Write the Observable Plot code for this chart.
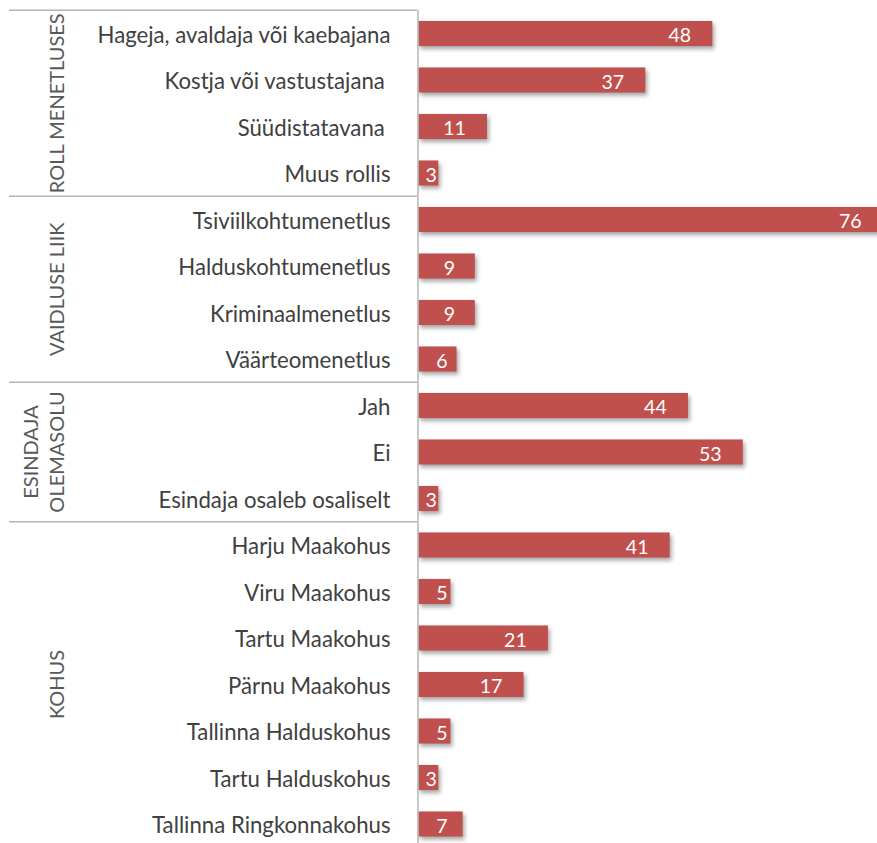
<!DOCTYPE html>
<html>
<head>
<meta charset="utf-8">
<script src="https://cdn.jsdelivr.net/npm/d3@7"></script>
<script src="https://cdn.jsdelivr.net/npm/@observablehq/plot@0.6"></script>
<style>
  html, body { margin: 0; padding: 0; background: #fff; overflow: hidden; }
  #chart svg { display: block; max-width: none !important; }
</style>
</head>
<body>
<div id="chart"></div>
<script>
// ---- data ----
const categories = [
  "Hageja, avaldaja või kaebajana", "Kostja või vastustajana ", "Süüdistatavana ", "Muus rollis",
  "Tsiviilkohtumenetlus", "Halduskohtumenetlus", "Kriminaalmenetlus", "Väärteomenetlus",
  "Jah", "Ei", "Esindaja osaleb osaliselt",
  "Harju Maakohus", "Viru Maakohus", "Tartu Maakohus", "Pärnu Maakohus",
  "Tallinna Halduskohus", "Tartu Halduskohus", "Tallinna Ringkonnakohus"
];
const values = [48, 37, 11, 3, 76, 9, 9, 6, 44, 53, 3, 41, 5, 21, 17, 5, 3, 7];
const groupNames = ["ROLL MENETLUSES", "VAIDLUSE LIIK", "ESINDAJA\nOLEMASOLU", "KOHUS"];
const groupSizes = [4, 4, 3, 7];

const data = categories.map((c, i) => ({category: c, value: values[i]}));
const groupFirst = [];
{ let k = 0; for (const s of groupSizes) { groupFirst.push(k); k += s; } }

// ---- font fitting (reference uses Calibri) ----
const FONT = "Lato, 'Open Sans', sans-serif";
function measure(text, size) {
  const svg = d3.select("body").append("svg").attr("width", 10).attr("height", 10);
  const t = svg.append("text").attr("font-family", FONT).attr("font-size", size).text(text);
  const w = t.node().getComputedTextLength();
  svg.remove();
  return w;
}
const catFs = 100 * 293 / measure("Hageja, avaldaja või kaebajana", 100);
const grpFs = 100 * 180 / measure("ROLL MENETLUSES", 100);
const valFs = 100 * 22.7 / measure("48", 100);

const K = 6.09; // px per unit
const labelX = d => d.value >= 10
  ? d.value - 33 / K
  : Math.max(d.value - 26 / K, Math.min(21.5 / K, d.value - 7.6 / K));

const plot = Plot.plot({
  width: 877,
  height: 843,
  marginLeft: 420,
  marginRight: 0,
  marginTop: 10,
  marginBottom: 0,
  style: {fontFamily: FONT, background: "white", overflow: "hidden"},
  x: {domain: [0, 75], range: [420, 420 + 75 * K], axis: null},
  y: {domain: categories, range: [10.25, 847.25], paddingInner: 0.46, paddingOuter: 0.23, round: false, axis: null},
  marks: [
    Plot.barX(data, {x: "value", y: "category", fill: "#C0504D", insetLeft: -1.7}),
    Plot.ruleX([0], {stroke: "#b4b4b4", strokeWidth: 1.5, dx: -2.5}),
    Plot.text(data, {x: 0, y: "category", text: "category", textAnchor: "end", dx: -30, dy: 1.5,
      fontSize: catFs, fill: "#404040"}),
    Plot.text(data, {x: labelX, y: "category", text: d => String(d.value), textAnchor: "middle",
      dy: 2, fontSize: valFs, fill: "white"})
  ]
});

// shadow on bars
d3.select(plot).selectAll("g[aria-label='bar'] rect")
  .style("filter", "drop-shadow(2px 3px 2px rgba(0,0,0,0.35))");

// group separators and labels using the plot's y scale
const y = plot.scale("y");
const gap = y.step - y.bandwidth;
const svg = d3.select(plot);
const layer = svg.append("g").attr("aria-label", "groups");
groupFirst.forEach((fi, gi) => {
  const yTop = y.apply(categories[fi]) - gap / 2;
  layer.append("line")
    .attr("x1", 9).attr("x2", 417)
    .attr("y1", yTop).attr("y2", yTop)
    .attr("stroke", "#b4b4b4").attr("stroke-width", 1.5);
  const li = fi + groupSizes[gi] - 1;
  const yc = (y.apply(categories[fi]) + y.apply(categories[li])) / 2 + y.bandwidth / 2;
  const lines = groupNames[gi].split("\n");
  lines.forEach((ln, j) => {
    const xb = 64 - (lines.length - 1 - j) * 26.5;
    layer.append("text")
      .attr("transform", `translate(${xb},${yc}) rotate(-90)`)
      .attr("text-anchor", "middle")
      .attr("font-family", FONT)
      .attr("font-size", grpFs)
      .attr("fill", "#595959")
      .text(ln);
  });
});

document.getElementById("chart").appendChild(plot);
</script>
</body>
</html>
